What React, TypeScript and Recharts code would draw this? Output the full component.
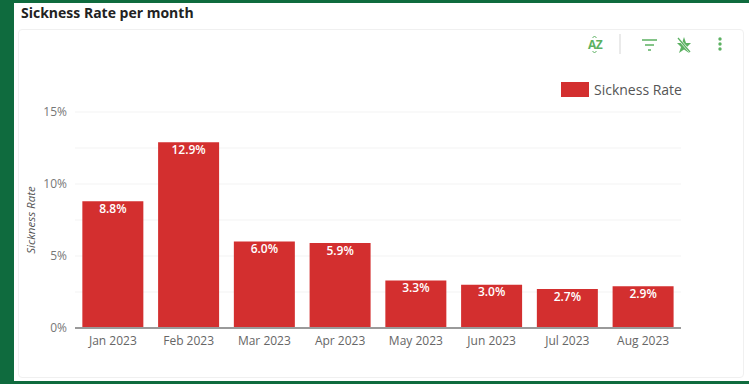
import React from "react";
import { BarChart, Bar, XAxis, YAxis, CartesianGrid, Legend, LabelList } from "recharts";

const months = ["Jan 2023", "Feb 2023", "Mar 2023", "Apr 2023", "May 2023", "Jun 2023", "Jul 2023", "Aug 2023"];
const sicknessRate = [8.8, 12.9, 6.0, 5.9, 3.3, 3.0, 2.7, 2.9];
const gridTicks = [0, 2.5, 5, 7.5, 10, 12.5, 15];
const seriesName = "Sickness Rate";
const chartTitle = "Sickness Rate per month";

const rows = months.map((month, i) => ({ month, rate: sicknessRate[i] }));

const FONT = "'Open Sans', sans-serif";
const RED = "#d32f2f";
const GREEN = "#5cb162";

const SickLegend = () => (
  <div style={{ display: "flex", alignItems: "center", fontFamily: FONT, fontSize: 14, color: "#555" }}>
    <span style={{ width: 28, height: 15, background: RED, marginRight: 5, display: "inline-block" }} />
    {seriesName}
  </div>
);

// Toolbar glyphs: sort, divider, filter, no-highlight, overflow menu
const Toolbar = () => (
  <svg width={749} height={60} style={{ position: "absolute", left: 0, top: 0 }}>
    <text x={595} y={49} textAnchor="middle" fontFamily={FONT} fontSize={12} fontWeight={700} fill={GREEN} letterSpacing={-0.5}>AZ</text>
    <path d="M592.500 38 l2 -2 l2 2 M592.500 51 l2 2 l2 -2" stroke={GREEN} strokeWidth={1} fill="none" />
    <line x1={620} y1={34} x2={620} y2={54} stroke="#d5d5d5" strokeWidth={1} />
    <path d="M642 40 h15 M645 45 h9 M648 50 h3" stroke={GREEN} strokeWidth={1.6} fill="none" />
    <path d="M684 37 l2 6 h5 l-4 4 l2 6 l-5 -3.500 l-5 3.500 l2 -6 l-4 -4 h5 z" fill={GREEN} />
    <line x1={677} y1={37} x2={691} y2={53} stroke="#fff" strokeWidth={2.5} />
    <line x1={678} y1={38} x2={690} y2={52} stroke={GREEN} strokeWidth={1.3} />
    <circle cx={720} cy={39} r={1.700} fill={GREEN} />
    <circle cx={720} cy={44} r={1.700} fill={GREEN} />
    <circle cx={720} cy={49} r={1.700} fill={GREEN} />
  </svg>
);

export default function App() {
  return (
    <div style={{ position: "fixed", left: 0, top: 0, width: 749, height: 384, background: "#0f6b3e", overflow: "hidden" }}>
      <div style={{ position: "absolute", left: 14, top: 3, width: 735, height: 378, background: "#fff" }} />
      <div style={{ position: "absolute", left: 18, top: 29, width: 724, height: 347, background: "#fff", border: "1px solid #f0f0f0", borderRadius: 4 }} />
      <div style={{ position: "absolute", left: 21, top: 4, fontFamily: FONT, fontSize: 14, fontWeight: 700, color: "#222", lineHeight: "18px" }}>
        {chartTitle}
      </div>
      <Toolbar />
      <div style={{ position: "absolute", left: 0, top: 0 }}>
        <BarChart
          width={749}
          height={384}
          data={rows}
          margin={{ top: 93, right: 68, bottom: 26, left: 15 }}
          barCategoryGap="9.700%"
        >
          <CartesianGrid vertical={false} stroke="#f3f3f3" strokeWidth={1} />
          <XAxis
            dataKey="month"
            height={30}
            tickLine={false}
            axisLine={{ stroke: "#9a9a9a", strokeWidth: 2 }}
            tick={{ fontFamily: FONT, fontSize: 12, fill: "#666" }}
            tickMargin={2}
            interval={0}
          />
          <YAxis
            width={60}
            domain={[0, 15]}
            ticks={gridTicks}
            interval={0}
            tickLine={false}
            axisLine={false}
            tick={{ fontFamily: FONT, fontSize: 12, fill: "#777" }}
            tickMargin={2}
            tickFormatter={(v: number) => (v % 5 === 0 ? `${v}%` : "")}
            label={{
              value: seriesName,
              angle: -90,
              position: "insideLeft",
              offset: 16,
              style: { fontFamily: FONT, fontSize: 11.5, fontStyle: "italic", fill: "#555", textAnchor: "middle" },
            }}
          />
          <Legend
            verticalAlign="top"
            content={<SickLegend />}
            wrapperStyle={{ position: "absolute", left: 561, top: 80, width: 140 }}
          />
          <Bar dataKey="rate" name={seriesName} fill={RED} isAnimationActive={false}>
            <LabelList
              dataKey="rate"
              position="insideTop"
              offset={3}
              formatter={(v: number) => `${v.toFixed(1)}%`}
              style={{ fontFamily: FONT, fontSize: 12, fontWeight: 600, fill: "#fff" }}
            />
          </Bar>
        </BarChart>
      </div>
    </div>
  );
}
